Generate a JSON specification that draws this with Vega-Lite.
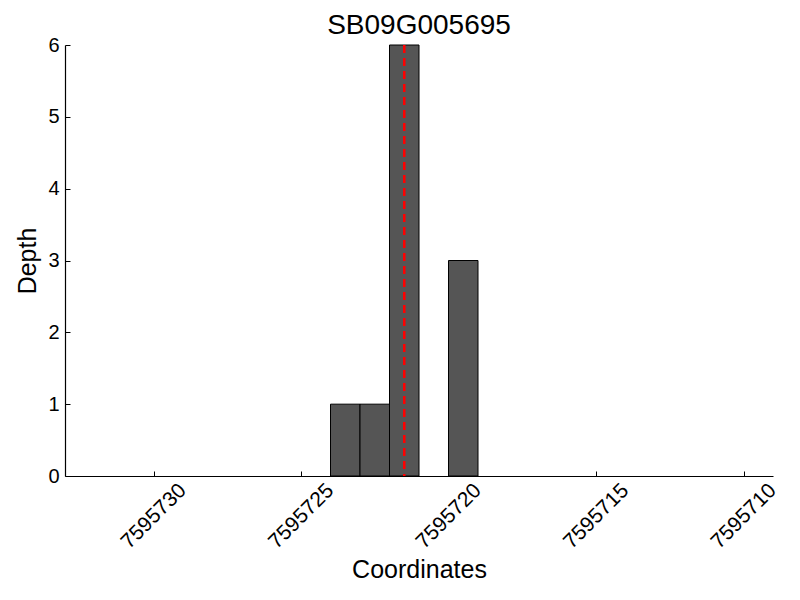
{
  "$schema": "https://vega.github.io/schema/vega-lite/v6.json",
  "autosize": "none",
  "width": 708,
  "height": 431,
  "padding": {"left": 65, "top": 45, "right": 27, "bottom": 124},
  "background": "white",
  "config": {
    "view": {"stroke": null},
    "font": "Liberation Sans",
    "axis": {"grid": false, "domainColor": "black", "domainWidth": 1.2, "tickColor": "black", "tickWidth": 1, "labelColor": "black", "titleColor": "black", "labelFont": "Liberation Sans", "titleFont": "Liberation Sans", "titleFontWeight": "normal"}
  },
  "title": {"text": "SB09G005695", "fontSize": 28, "fontWeight": "normal", "font": "Liberation Sans", "color": "black", "anchor": "middle", "offset": -5},
  "datasets": {
    "bars": [
      {"start": 7595724, "end": 7595723, "depth": 1},
      {"start": 7595723, "end": 7595722, "depth": 1},
      {"start": 7595722, "end": 7595721, "depth": 6},
      {"start": 7595720, "end": 7595719, "depth": 3}
    ],
    "marker": [{"pos": 7595721.5}]
  },
  "layer": [
    {
      "data": {"name": "bars"},
      "mark": {"type": "rect", "fill": "#555555", "stroke": "black", "strokeWidth": 1},
      "encoding": {
        "x": {"field": "start", "type": "quantitative",
          "scale": {"domain": [7595709, 7595733], "reverse": true, "nice": false, "zero": false},
          "axis": {"title": "Coordinates", "values": [7595710, 7595715, 7595720, 7595725, 7595730], "format": "d", "labelAngle": -45, "labelAlign": "center", "labelBaseline": "middle", "labelFontSize": 21, "labelPadding": 45, "tickSize": -5, "titleFontSize": 25, "titleY": 101, "titleBaseline": "alphabetic"}},
        "x2": {"field": "end"},
        "y": {"field": "depth", "type": "quantitative",
          "scale": {"domain": [0, 6], "nice": false},
          "axis": {"title": "Depth", "values": [0, 1, 2, 3, 4, 5, 6], "labelFontSize": 20, "labelPadding": 11, "tickSize": -5, "titleFontSize": 25, "titleX": -30, "titleBaseline": "alphabetic"}},
        "y2": {"datum": 0}
      }
    },
    {
      "data": {"name": "marker"},
      "mark": {"type": "rule", "color": "#ff0000", "strokeWidth": 2.5, "strokeDash": [8, 5]},
      "encoding": {"x": {"field": "pos", "type": "quantitative"}}
    }
  ]
}
